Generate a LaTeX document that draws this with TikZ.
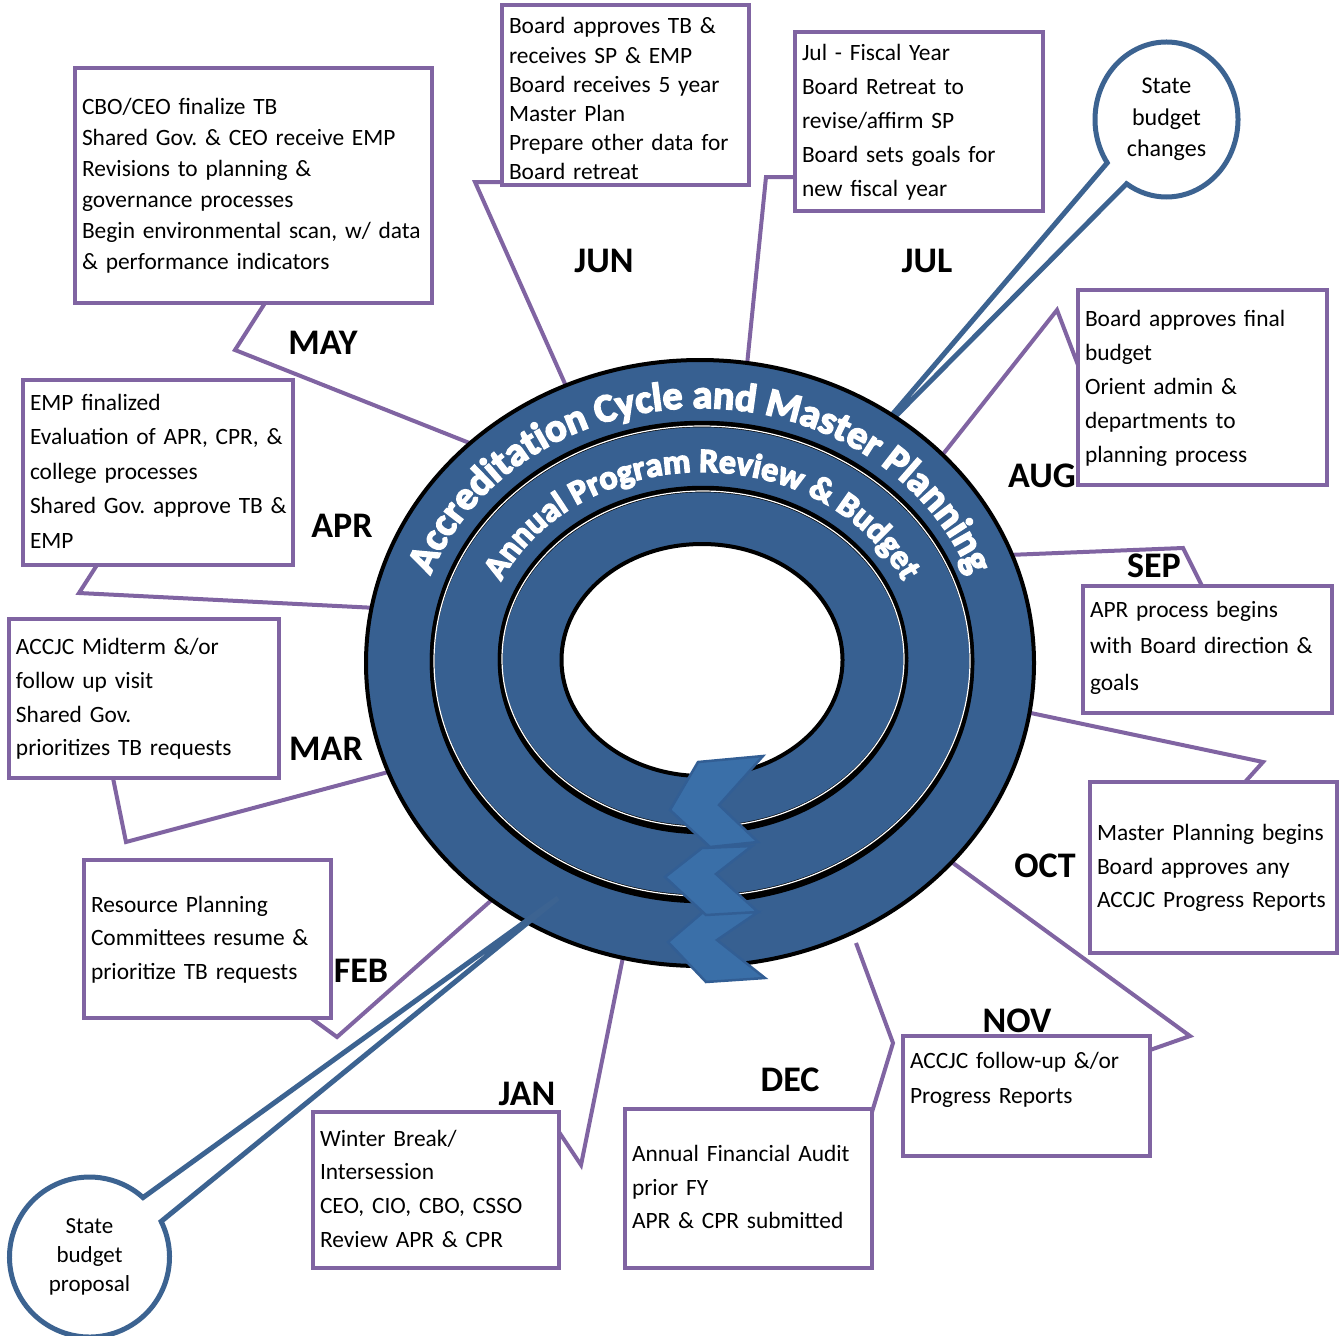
\documentclass[tikz,border=0pt]{standalone}
\usepackage{fontspec}
\setmainfont{Carlito}
\newfontfamily\arcfacefont{Carlito}[BoldFeatures={FakeBold=4}]
\usetikzlibrary{decorations.text}

\definecolor{calloutpurple}{RGB}{128,100,162}
\definecolor{ringblue}{RGB}{55,96,145}
\definecolor{chevronfill}{RGB}{58,111,168}
\definecolor{chevronline}{RGB}{50,94,148}
\definecolor{bubbleblue}{RGB}{60,99,145}

\newcommand\boxfont[1]{\fontsize{23.4}{#1}\selectfont}
\newcommand\monthfont{\fontsize{36}{36}\selectfont\bfseries}
\newcommand\outerarcface{\color{white}\arcfacefont\bfseries\fontsize{40}{40}\selectfont}
\newcommand\innerarcface{\color{white}\arcfacefont\bfseries\fontsize{34}{34}\selectfont}

\tikzset{
  cbox/.style n args={4}{draw=calloutpurple, line width=4pt, fill=white, rectangle,
    minimum width=#1pt, minimum height=#2pt, text width=#3pt, inner xsep=7pt,
    inner ysep=0pt, align=left, outer sep=0pt, font={\boxfont{#4}}},
  pointer/.style={draw=calloutpurple, line width=4pt, line join=miter},
  month/.style={font=\monthfont, inner sep=0pt},
  bubble/.style={draw=bubbleblue, line width=5pt, line join=miter},
  chevron/.style={fill=chevronfill, draw=chevronline, line width=2.5pt, line join=miter},
  bubbletext/.style={align=center, inner sep=0pt},
}

\begin{document}
\frenchspacing
\begin{tikzpicture}[x=1pt, y=-1pt]
\useasboundingbox (0,0) rectangle (1343,1335);
\fill[white] (0,0) rectangle (1343,1335);

% ---- "State budget changes" speech bubble (tail runs under the ring)
\coordinate (bchc) at (1166.5,119.5);
\coordinate (bchTip) at (862,450);
\draw[bubble, fill=white] (bchc) ++(146:71.5 and 77.5)
  arc[start angle=146, end angle=484, x radius=71.5, y radius=77.5]
  -- (bchTip) -- cycle;
\node[bubbletext, font=\fontsize{24}{31.5}\selectfont] (bch) at (bchc) {State\\budget\\changes};

% ---- callout boxes
\node[cbox={357}{235}{343}{31}] (may) at (253.5,185.5) {\begin{tabular}{@{}l@{}}
  CBO/CEO finalize TB\\ Shared Gov. \& CEO receive EMP\\ Revisions to planning \&\\
  governance processes\\ Begin environmental scan, w/ data\\ \& performance indicators\end{tabular}};
\node[cbox={247}{180}{233}{29.2}] (jun) at (625.5,95) {\raisebox{-6pt}[\height][\depth]{\begin{tabular}{@{}l@{}}
  Board approves TB \&\\ receives SP \& EMP\\ Board receives 5 year\\ Master Plan\\
  Prepare other data for\\ Board retreat\end{tabular}}};
\node[cbox={248}{179}{234}{34}] (jul) at (919,121.5) {\begin{tabular}{@{}l@{}}
  Jul - Fiscal Year\\ Board Retreat to\\ revise/affirm SP\\ Board sets goals for\\
  new fiscal year\end{tabular}};
\node[cbox={249}{195}{235}{34}] (aug) at (1202.5,387.5) {\begin{tabular}{@{}l@{}}
  Board approves final\\ budget\\ Orient admin \&\\ departments to\\ planning process\end{tabular}};
\node[cbox={249}{127}{235}{36.5}] (sep) at (1207.5,649.5) {\raisebox{3pt}[\height][\depth]{\begin{tabular}{@{}l@{}}
  APR process begins\\ with Board direction \&\\ goals\end{tabular}}};
\node[cbox={247}{171}{233}{33.5}] (oct) at (1213.5,867.5) {\begin{tabular}{@{}l@{}}
  Master Planning begins\\ Board approves any\\ ACCJC Progress Reports\end{tabular}};
\node[cbox={247}{120}{233}{35}] (nov) at (1026.5,1096) {\begin{tabular}{@{}l@{}}
  ACCJC follow-up \&/or\\ Progress Reports\\ \mbox{}\end{tabular}};
\node[cbox={247}{159}{233}{33.5}] (dec) at (748.5,1188.5) {\begin{tabular}{@{}l@{}}
  Annual Financial Audit\\ prior FY\\ APR \& CPR submitted\end{tabular}};
\node[cbox={246}{156}{232}{33.7}] (jan) at (436,1190) {\begin{tabular}{@{}l@{}}
  Winter Break/\\ Intersession\\ CEO, CIO, CBO, CSSO\\ Review APR \& CPR\end{tabular}};
\node[cbox={247}{158}{233}{33.5}] (feb) at (207.5,939) {\begin{tabular}{@{}l@{}}
  Resource Planning\\ Committees resume \&\\ prioritize TB requests\end{tabular}};
\node[cbox={270}{159}{256}{33.7}] (mar) at (144,698.5) {\begin{tabular}{@{}l@{}}
  ACCJC Midterm \&/or\\ follow up visit\\ Shared Gov.\\ prioritizes TB requests\end{tabular}};
\node[cbox={270}{185}{256}{34.5}] (apr) at (158,472.5) {\begin{tabular}{@{}l@{}}
  EMP finalized\\ Evaluation of APR, CPR, \&\\ college processes\\
  Shared Gov. approve TB \&\\ EMP\end{tabular}};

% ---- callout pointers: box -> bend -> ring
\coordinate (mayBend) at (235,350);   \coordinate (mayRing) at (472,444);
\coordinate (junBend) at (475,182);   \coordinate (junRing) at (566,386);
\coordinate (julBend) at (766,177);   \coordinate (julRing) at (747,365);
\coordinate (augBend) at (1057,310);  \coordinate (augRing) at (940,458);
\coordinate (sepBend) at (1183,548);  \coordinate (sepRing) at (1008,555);
\coordinate (octBend) at (1263,762);  \coordinate (octRing) at (1026,712);
\coordinate (novBend) at (1190,1036); \coordinate (novRing) at (953,863);
\coordinate (decBend) at (893,1043);  \coordinate (decRing) at (856,943);
\coordinate (janBend) at (581,1165);  \coordinate (janRing) at (623,957);
\coordinate (febBend) at (337,1037);  \coordinate (febRing) at (495,897);
\coordinate (marBend) at (126,842);   \coordinate (marRing) at (392,771);
\coordinate (aprBend) at (79,593);    \coordinate (aprRing) at (377,608);

\draw[pointer] (may.south west) ++(190,0) -- (mayBend) -- (mayRing);
\draw[pointer] (jun.south west) ++(0,-3) -- (junBend) -- (junRing);
\draw[pointer] (jul.south west) ++(0,-34) -- (julBend) -- (julRing);
\draw[pointer] (aug.north west) ++(0,75) -- (augBend) -- (augRing);
\draw[pointer] (sep.north west) ++(119,0) -- (sepBend) -- (sepRing);
\draw[pointer] (oct.north west) ++(155,0) -- (octBend) -- (octRing);
\draw[pointer] (nov.north east) ++(0,14) -- (novBend) -- (novRing);
\draw[pointer] (dec.north east) ++(0,3) -- (decBend) -- (decRing);
\draw[pointer] (jan.north east) ++(0,20) -- (janBend) -- (janRing);
\draw[pointer] (feb.south east) ++(-20,0) -- (febBend) -- (febRing);
\draw[pointer] (mar.south west) ++(104,0) -- (marBend) -- (marRing);
\draw[pointer] (apr.south west) ++(74,0) -- (aprBend) -- (aprRing);

% ---- the three nested bands
\draw[black, line width=4pt, fill=ringblue] (700,663) ellipse [x radius=334, y radius=303];
\draw[black, line width=4.5pt] (702,660) ellipse [x radius=270, y radius=237];
\draw[black, line width=4.5pt] (702,663) ellipse [x radius=270, y radius=238];
\draw[white, line width=1.2pt] (702,661) ellipse [x radius=268, y radius=235];
\draw[black, line width=4.5pt] (703,658) ellipse [x radius=203, y radius=170];
\draw[black, line width=4.5pt] (703,661) ellipse [x radius=203, y radius=171];
\draw[white, line width=1.2pt] (703,659) ellipse [x radius=201, y radius=168];
\draw[black, line width=4pt, fill=white] (702,660) ellipse [x radius=140.5, y radius=116];

% ---- chevrons crossing the bands
\draw[chevron] (702,913) -- (758,912) -- (717,940) -- (765,978) -- (706,982) -- (668,942) -- cycle;
\draw[chevron] (702,848) -- (752,846) -- (716,874) -- (758,912) -- (706,915) -- (665,877) -- cycle;
\draw[chevron] (698,762) -- (763,756) -- (719,805) -- (758,842) -- (710,847) -- (670,810) -- cycle;

% ---- band titles along the arcs
\begin{scope}[shift={(700,663)}]
  \path[decorate, decoration={text along path, text align=center,
    text={|\outerarcface|Accreditation Cycle and Master Planning}}]
    (-175:287 and 255) arc[start angle=-175, end angle=-5, x radius=287, y radius=255];
\end{scope}
\begin{scope}[shift={(702,660)}]
  \path[decorate, decoration={text along path, text align=center,
    text={|\innerarcface|Annual Program Review {\&} Budget}}]
    (-175:221 and 188) arc[start angle=-175, end angle=-5, x radius=221, y radius=188];
\end{scope}

% ---- "State budget proposal" speech bubble (tail drawn over the ring)
\coordinate (bprc) at (89.5,1257);
\coordinate (bprTip) at (558,898);
\fill[white] (bprc) circle [radius=80];
\draw[bubble] (bprc) ++(-26.4:80) arc[start angle=-26.4, end angle=312, radius=80]
  -- (bprTip) -- cycle;
\node[bubbletext, font=\fontsize{23}{29}\selectfont] (bpr) at (bprc) {State\\budget\\proposal};

% ---- month labels
\node[month] (lmay) at (323,343) {MAY};
\node[month] (ljun) at (604,261) {JUN};
\node[month] (ljul) at (927,261) {JUL};
\node[month] (laug) at (1042,476) {AUG};
\node[month] (lsep) at (1154,566) {SEP};
\node[month] (loct) at (1045,866) {OCT};
\node[month] (lnov) at (1017,1021) {NOV};
\node[month] (ldec) at (790,1080) {DEC};
\node[month] (ljan) at (527,1094) {JAN};
\node[month] (lfeb) at (361,971) {FEB};
\node[month] (lmar) at (326,749) {MAR};
\node[month] (lapr) at (342,526) {APR};
\end{tikzpicture}
\end{document}
